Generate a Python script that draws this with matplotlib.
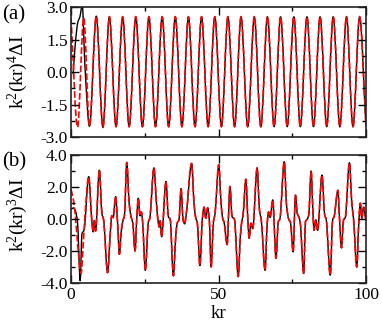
import numpy as np
import matplotlib
matplotlib.use('Agg')
import matplotlib.pyplot as plt
from matplotlib.path import Path
from matplotlib.patches import PathPatch
from matplotlib.ticker import MultipleLocator, FormatStrFormatter

plt.rcParams['font.family'] = ['Liberation Serif', 'DejaVu Serif']
plt.rcParams['mathtext.fontset'] = 'custom'
plt.rcParams['mathtext.rm'] = 'Liberation Serif'
plt.rcParams['mathtext.it'] = 'Liberation Serif:italic'
plt.rcParams['axes.unicode_minus'] = False

# panel (a): start of the curves, read point by point
a_black_head_x = [0.7, 1.5, 2.3, 3.0, 3.8, 4.7]
a_black_head_y = [-0.1, 1.4, 2.3, 2.55, 3.1, 0.3]
a_red_head_x = [0.0, 2.2, 4.3]
a_red_head_y = [2.5, -2.55, 2.5]
# panel (a): extrema of the regular oscillation (both curves overlap here)
a_trough_x = [6.25, 10.8, 15.25, 19.7, 24.2, 28.65, 33.1, 37.6, 42.05, 46.5, 51.0,
              55.45, 59.9, 64.35, 68.85, 73.3, 77.75, 82.2, 86.7, 91.15, 95.6, 100.0]
a_trough_y = [-2.5, -2.55, -2.52, -2.52, -2.52, -2.52, -2.52, -2.52, -2.52, -2.52, -2.52,
              -2.52, -2.52, -2.52, -2.52, -2.52, -2.52, -2.52, -2.52, -2.52, -2.52, -2.5]
a_peak_x = [8.55, 13.0, 17.5, 21.95, 26.4, 30.9, 35.35, 39.8, 44.25, 48.75, 53.2,
            57.65, 62.15, 66.6, 71.05, 75.55, 80.0, 84.45, 88.9, 93.4, 97.85]
a_peak_y = [2.58, 2.55, 2.55, 2.55, 2.55, 2.55, 2.55, 2.55, 2.55, 2.55, 2.55,
            2.55, 2.55, 2.55, 2.55, 2.55, 2.55, 2.55, 2.55, 2.55, 2.55]

# panel (b): black curve
b_x = [0.0, 0.8, 1.5, 2.2, 3.1, 3.7, 4.4, 6.0, 7.0, 7.5, 7.9, 8.3, 9.6, 10.5, 11.0,
       12.4, 13.3, 13.8, 14.3, 15.1, 15.8, 16.4, 17.0, 17.6, 18.1, 18.9, 19.7, 20.4,
       20.9, 21.7, 22.3, 22.8, 23.4, 23.8, 24.2, 25.2, 26.2, 26.7, 28.1, 29.0, 29.5,
       29.9, 30.2, 30.7, 32.2, 33.0, 33.6, 34.7, 35.5, 36.0, 36.6, 37.3, 38.0, 38.5,
       39.0, 40.9, 41.7, 42.3, 42.8, 43.7, 44.5, 45.1, 45.7, 46.3, 46.9, 47.5, 48.3,
       48.8, 50.1, 50.8, 51.4, 51.9, 52.9, 53.9, 54.6, 55.4, 56.7, 57.4, 57.9, 58.3,
       59.3, 59.9, 60.4, 61.0, 61.6, 63.1, 63.9, 64.5, 65.8, 66.5, 67.0, 67.5, 68.4,
       69.5, 70.3, 70.8, 72.3, 73.1, 73.8, 74.4, 75.3, 76.1, 76.7, 77.2, 77.7, 78.9,
       79.5, 80.1, 80.6, 81.4, 82.0, 82.4, 83.0, 83.6, 85.1, 86.0, 86.5, 87.9, 88.7,
       89.2, 90.5, 91.0, 91.7, 92.4, 93.0, 94.4, 95.2, 95.8, 96.9, 97.5, 98.1, 98.6,
       99.2, 100.0]
b_y = [0.6, 0.7, 0.5, -0.2, -3.85, -0.9, -0.7, 2.65, 0.0, -0.8, -0.1, -0.75, 3.05, 0.3, 0.0,
       -3.35, -0.9, 0.2, 0.1, 1.4, -0.3, -2.2, -0.8, -0.1, 0.2, 3.55, 1.0, 0.1,
       -0.2, -2.0, 0.1, 1.3, 0.2, 0.45, 0.0, -3.2, -0.2, 0.05, 3.2, 0.9, -0.1,
       -0.5, -0.1, -1.1, 2.35, 0.15, 0.0, -3.55, -1.1, -0.25, -0.05, 1.9, -0.05, -0.3,
       0.2, 3.48, 1.0, 0.05, -0.2, -2.9, -0.05, 0.75, 0.05, 0.7, -0.1, -3.0, -0.15,
       0.3, 3.4, 1.2, 0.05, -0.2, -1.6, 2.05, 0.15, 0.0, -3.6, -1.1, -0.15, 0.2,
       2.5, 0.15, -1.2, -0.25, -0.6, 3.2, 0.55, -0.05, -3.2, -0.3, 0.45, 0.1, 1.2,
       -2.45, -0.15, 0.0, 3.58, 0.8, 0.0, -0.2, -2.05, 1.5, 0.35, 0.15, -0.2, -3.4,
       -0.15, 0.0, 0.25, 3.0, 0.55, -0.7, -0.05, -0.7, 2.75, 0.25, 0.0, -3.5, -0.05,
       0.15, 1.8, 0.15, -1.8, -0.05, 0.1, 3.52, 1.0, 0.0, -3.0, -0.5, 1.0, 0.05,
       0.75, -0.1]
# panel (b): red curve differs only at the start
b_red_head_x = [0.0, 0.8, 1.5, 2.3, 3.4, 4.2]
b_red_head_y = [1.85, 1.2, 0.15, -1.7, -3.4, -1.3]


def smooth_path(x, y):
    # draw through the read points with cubic segments, flat at turning points
    x = np.asarray(x, float)
    y = np.asarray(y, float)
    d = np.diff(y) / np.diff(x)
    m = np.zeros_like(x)
    m[0], m[-1] = d[0], d[-1]
    for i in range(1, len(x) - 1):
        if d[i - 1] * d[i] > 0:
            m[i] = 2.0 / (1.0 / d[i - 1] + 1.0 / d[i])
    verts = [(x[0], y[0])]
    codes = [Path.MOVETO]
    for i in range(len(x) - 1):
        h = x[i + 1] - x[i]
        verts += [(x[i] + h / 3, y[i] + m[i] * h / 3),
                  (x[i + 1] - h / 3, y[i + 1] - m[i + 1] * h / 3),
                  (x[i + 1], y[i + 1])]
        codes += [Path.CURVE4] * 3
    return Path(verts, codes)


# build the series
reg_x = np.array(a_trough_x + a_peak_x)
reg_y = np.array(a_trough_y + a_peak_y)
order = np.argsort(reg_x)
reg_x, reg_y = reg_x[order], reg_y[order]
a_black_x = np.concatenate([a_black_head_x, reg_x])
a_black_y = np.concatenate([a_black_head_y, reg_y])
a_red_x = np.concatenate([a_red_head_x, reg_x])
a_red_y = np.concatenate([a_red_head_y, reg_y])

b_x = np.array(b_x)
b_y = np.array(b_y)
tail = b_x >= 4.4
b_red_x = np.concatenate([b_red_head_x, b_x[tail]])
b_red_y = np.concatenate([b_red_head_y, b_y[tail]])

fig = plt.figure(figsize=(3.82, 3.21), dpi=100)
ax1 = fig.add_axes([0.186, 0.573, 0.772, 0.405])
ax2 = fig.add_axes([0.186, 0.118, 0.772, 0.399])

for ax, bx, by, rx, ry in [(ax1, a_black_x, a_black_y, a_red_x, a_red_y),
                           (ax2, b_x, b_y, b_red_x, b_red_y)]:
    ax.add_patch(PathPatch(smooth_path(bx, by), fill=False, edgecolor='black',
                           lw=1.0, joinstyle='round'))
    ax.add_patch(PathPatch(smooth_path(rx, ry), fill=False, edgecolor='red',
                           lw=1.2, linestyle=(0, (4, 1.5))))
    ax.set_xlim(0, 100)
    ax.xaxis.set_major_locator(MultipleLocator(50))
    ax.xaxis.set_minor_locator(MultipleLocator(25))
    ax.tick_params(which='both', direction='in', top=True, right=True, width=1.0,
                   labelsize=12.5, pad=2.5)
    ax.tick_params(which='major', length=6)
    ax.tick_params(which='minor', length=3)
    for s in ax.spines.values():
        s.set_linewidth(1.2)
        s.set_color('#222222')

ax1.set_ylim(-3, 3)
ax1.yaxis.set_major_locator(MultipleLocator(1.5))
ax1.yaxis.set_minor_locator(MultipleLocator(0.75))
ax1.yaxis.set_major_formatter(FormatStrFormatter('%.1f'))
ax1.tick_params(labelbottom=False)

ax2.set_ylim(-4, 4)
ax2.yaxis.set_major_locator(MultipleLocator(2))
ax2.yaxis.set_minor_locator(MultipleLocator(1))
ax2.yaxis.set_major_formatter(FormatStrFormatter('%.1f'))
ax2.tick_params(axis='x', pad=3)

ax1.set_ylabel(r'$\mathrm{k}^2(\mathrm{kr})^4\Delta\mathrm{I}$', fontsize=14)
ax1.yaxis.set_label_coords(-0.138, 0.5)
ax2.set_ylabel(r'$\mathrm{k}^2(\mathrm{kr})^3\Delta\mathrm{I}$', fontsize=14)
ax2.yaxis.set_label_coords(-0.138, 0.53)
ax2.set_xlabel('kr', fontsize=13.5)
ax2.xaxis.set_label_coords(0.5, -0.17)
ax2.xaxis.label.set_va('top')

fig.text(0.005, 0.955, '(a)', fontsize=15, va='center')
fig.text(0.005, 0.495, '(b)', fontsize=15, va='center')

fig.savefig('out.png', dpi=100)
